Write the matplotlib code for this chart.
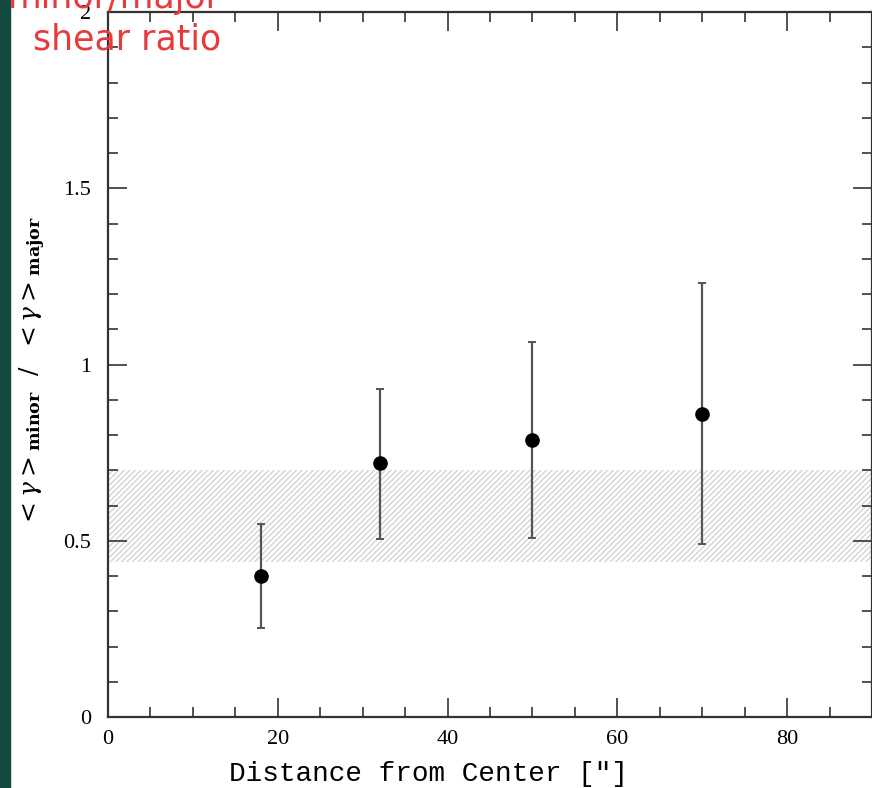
import numpy as np
import matplotlib.pyplot as plt
from matplotlib.ticker import MultipleLocator

# data
dist = [18, 32, 50, 70]
ratio = [0.40, 0.72, 0.787, 0.86]
err_hi = [0.548, 0.93, 1.063, 1.23]
err_lo = [0.252, 0.505, 0.509, 0.49]
band = [0.44, 0.70]
band_x = [0, 90]

if __name__ == "__main__":

    plt.rcParams['hatch.color'] = '#d4d4d4'
    plt.rcParams['hatch.linewidth'] = 1.0
    plt.rcParams['mathtext.fontset'] = 'dejavuserif'

    fig = plt.figure(figsize=(8.72, 7.88), dpi=100)
    fig.patches.append(plt.Rectangle((0, 0), 10 / 872, 1, transform=fig.transFigure,
                                     color='#124a40', zorder=-1))
    ax = fig.add_axes([108 / 872, 71 / 788, 764 / 872, 705 / 788])

    ax.fill_between(band_x, band[0], band[1], facecolor='none', hatch='//////',
                    edgecolor='#d4d4d4', linewidth=0, zorder=1)

    ratio = np.array(ratio)
    yerr = [ratio - np.array(err_lo), np.array(err_hi) - ratio]
    ax.errorbar(dist, ratio, yerr=yerr, fmt='o', color='black', markersize=9.5,
                ecolor='#555555', elinewidth=1.6, capsize=3, capthick=1.4, zorder=3)

    ax.set_xlim(0, 90)
    ax.set_ylim(0, 2)
    ax.xaxis.set_major_locator(MultipleLocator(20))
    ax.xaxis.set_minor_locator(MultipleLocator(5))
    ax.yaxis.set_minor_locator(MultipleLocator(0.1))
    ax.set_yticks([0, 0.5, 1, 1.5, 2])
    ax.set_yticklabels(['0', '0.5', '1', '1.5', '2'])
    ax.tick_params(which='both', direction='in', top=True, right=True,
                   width=1.2, color='#333333', labelsize=16)
    ax.tick_params(which='major', length=14)
    ax.tick_params(axis='x', which='major', pad=9)
    ax.tick_params(axis='y', which='major', pad=12)
    ax.tick_params(which='minor', length=7)
    for lbl in ax.get_xticklabels() + ax.get_yticklabels():
        lbl.set_family('Liberation Serif')
    for s in ax.spines.values():
        s.set_linewidth(1.6)
        s.set_color('#333333')

    ax.set_xlabel('Distance from Center ["]', fontsize=20, family='Liberation Mono')
    ax.xaxis.set_label_coords(0.42, -0.062)
    ax.set_ylabel(r'$<\gamma>_{\mathbf{minor}}\ \ /\ \ <\gamma>_{\mathbf{major}}$',
                  fontsize=18)
    ax.yaxis.set_label_coords(-0.078, 0.49)

    fig.text(33 / 872, 1 - 40 / 788, 'shear ratio', color='#e8393b', fontsize=25,
             va='center', ha='left')
    fig.text(8 / 872, 1 + 2 / 788, 'minor/major', color='#e8393b', fontsize=25,
             va='center', ha='left')

    fig.savefig('out.png', dpi=100)
